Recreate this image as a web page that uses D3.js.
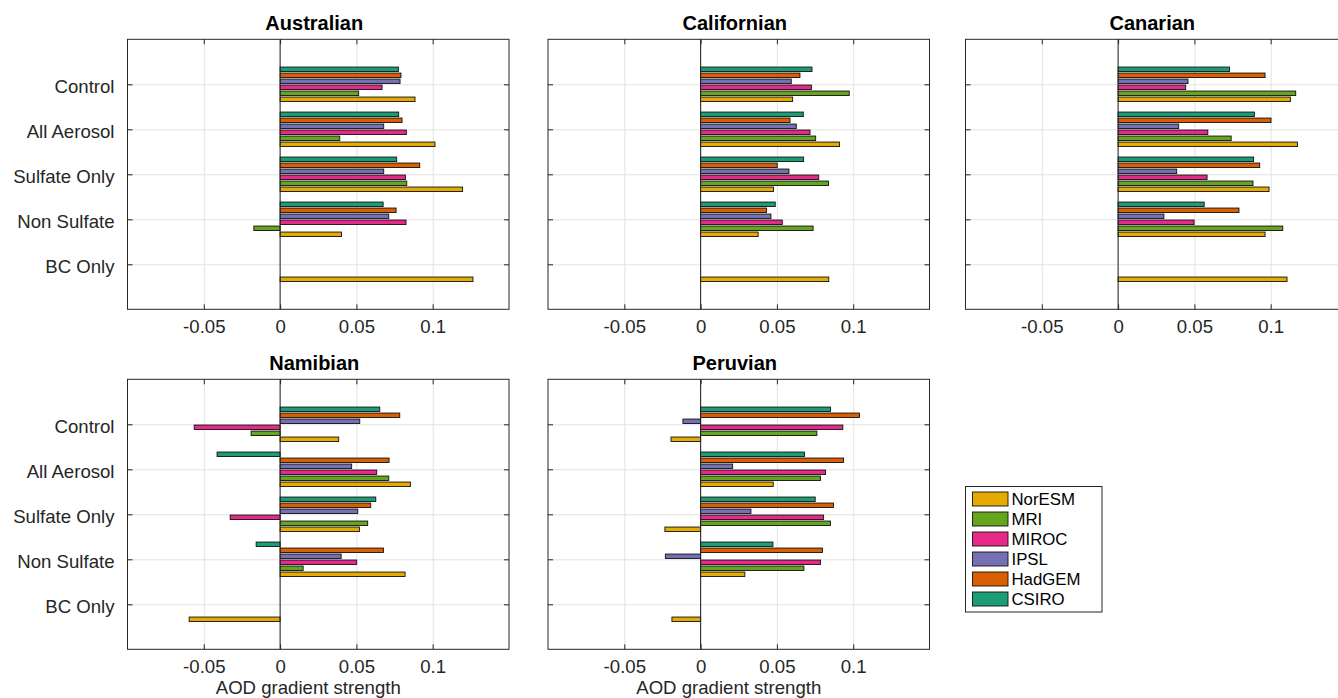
<!DOCTYPE html>
<html>
<head>
<meta charset="utf-8">
<script src="https://cdn.jsdelivr.net/npm/d3@7"></script>
<style>
  body { margin: 0; background: #fff; }
  svg { display: block; font-family: "Liberation Sans", Arial, Helvetica, sans-serif; }
  .grid line { stroke: #e2e2e2; stroke-width: 1; }
  .grid path { display: none; }
  .ax path { display: none; }
  .ax line { stroke: #262626; }
  .ax text { fill: #262626; font-size: 18.6px; }
</style>
</head>
<body>
<div id="chart"></div>
<script>
// experiments shown on the y axis (top to bottom)
const categories = ["Control", "All Aerosol", "Sulfate Only", "Non Sulfate", "BC Only"]
// models, in legend order
const models = ["NorESM", "MRI", "MIROC", "IPSL", "HadGEM", "CSIRO"]
const modelColors = ["#e6ab02", "#66a61e", "#e7298a", "#7570b3", "#d95f02", "#1b9e77"]
const regions = ["Australian", "Californian", "Canarian", "Namibian", "Peruvian"]
const xTicks = [-0.05, 0, 0.05, 0.1]

// values per experiment, columns follow `models`
const australian = [
    [0.0884, 0.0515, 0.0668, 0.0786, 0.0792, 0.0775],
    [0.1015, 0.0391, 0.0827, 0.0679, 0.0799, 0.0777],
    [0.1196, 0.0830, 0.0821, 0.0679, 0.0915, 0.0764],
    [0.0402, -0.0172, 0.0825, 0.0712, 0.0760, 0.0675],
    [0.1264, 0, 0, 0, 0, 0]
]
const californian = [
    [0.0603, 0.0974, 0.0726, 0.0594, 0.0651, 0.0730],
    [0.0910, 0.0754, 0.0717, 0.0627, 0.0586, 0.0673],
    [0.0478, 0.0838, 0.0774, 0.0579, 0.0502, 0.0675],
    [0.0377, 0.0737, 0.0535, 0.0461, 0.0432, 0.0489],
    [0.0840, 0, 0, 0, 0, 0]
]
const canarian = [
    [0.1129, 0.1164, 0.0443, 0.0458, 0.0963, 0.0730],
    [0.1175, 0.0741, 0.0588, 0.0397, 0.1002, 0.0893],
    [0.0989, 0.0884, 0.0583, 0.0384, 0.0928, 0.0888],
    [0.0963, 0.1079, 0.0498, 0.0300, 0.0792, 0.0564],
    [0.1107, 0, 0, 0, 0, 0]
]
const namibian = [
    [0.0384, -0.0190, -0.0563, 0.0522, 0.0784, 0.0653],
    [0.0854, 0.0712, 0.0633, 0.0469, 0.0714, -0.0413],
    [0.0520, 0.0574, -0.0327, 0.0509, 0.0594, 0.0627],
    [0.0819, 0.0151, 0.0502, 0.0400, 0.0677, -0.0157],
    [-0.0596, 0, 0, 0, 0, 0]
]
const peruvian = [
    [-0.0194, 0.0762, 0.0932, -0.0116, 0.1041, 0.0851],
    [0.0476, 0.0786, 0.0819, 0.0210, 0.0937, 0.0681],
    [-0.0234, 0.0851, 0.0806, 0.0330, 0.0871, 0.0751],
    [0.0290, 0.0677, 0.0786, -0.0231, 0.0799, 0.0474],
    [-0.0188, 0, 0, 0, 0, 0]
]
const regionValues = [australian, californian, canarian, namibian, peruvian]

const W = 1338, H = 698
const panelW = 381.5, panelH = 270
const colLeft = [127.5, 548, 965.5]
const rowTop = [39.3, 379.3]

const svg = d3.select("#chart").append("svg")
    .attr("width", W)
    .attr("height", H)
svg.append("rect").attr("width", W).attr("height", H).attr("fill", "#fff")

const x = d3.scaleLinear().domain([-0.1, 0.15]).range([0, panelW])
const y = d3.scaleLinear().domain([0, 6]).range([0, panelH])
// bars inside a group: CSIRO on top, NorESM at the bottom
const inner = d3.scaleBand()
    .domain(models.slice().reverse())
    .range([-0.4, 0.4])
    .paddingInner(0.25)
    .paddingOuter(0.125)

const fmt = d => d === 0 ? "0" : String(d)

regions.forEach((name, r) => {
    const col = r % 3
    const row = Math.floor(r / 3)
    const g = svg.append("g").attr("transform", `translate(${colLeft[col]},${rowTop[row]})`)
    const values = regionValues[r]

    // grid
    g.append("g").attr("class", "grid")
        .attr("transform", `translate(0,${panelH})`)
        .call(d3.axisBottom(x).tickValues(xTicks).tickSize(-panelH).tickFormat(""))
    g.append("g").attr("class", "grid")
        .call(d3.axisLeft(y).tickValues([1, 2, 3, 4, 5]).tickSize(-panelW).tickFormat(""))

    // bars
    const bars = []
    values.forEach((row, ci) => {
        row.forEach((v, mi) => bars.push({ cat: ci + 1, model: models[mi], color: modelColors[mi], v: v }))
    })
    g.selectAll("rect.bar")
        .data(bars.filter(d => d.v !== 0))
        .enter()
        .append("rect")
        .attr("class", "bar")
        .attr("x", d => x(Math.min(0, d.v)))
        .attr("width", d => Math.abs(x(d.v) - x(0)))
        .attr("y", d => y(d.cat + inner(d.model)))
        .attr("height", y(inner.bandwidth()) - y(0))
        .attr("fill", d => d.color)
        .attr("stroke", "#111")
        .attr("stroke-width", 0.9)

    // baseline at zero
    g.append("line")
        .attr("x1", x(0)).attr("x2", x(0))
        .attr("y1", 0).attr("y2", panelH)
        .attr("stroke", "#222")
        .attr("stroke-width", 1)

    // axes, ticks pointing inward
    const bottom = g.append("g").attr("class", "ax")
        .attr("transform", `translate(0,${panelH})`)
        .call(d3.axisBottom(x).tickValues(xTicks).tickSizeInner(-5).tickSizeOuter(0).tickPadding(10.8).tickFormat(fmt))
    g.append("g").attr("class", "ax")
        .call(d3.axisTop(x).tickValues(xTicks).tickSizeInner(-5).tickSizeOuter(0).tickFormat(""))
    const left = g.append("g").attr("class", "ax")
        .call(d3.axisLeft(y).tickValues([1, 2, 3, 4, 5]).tickSizeInner(-5).tickSizeOuter(0).tickPadding(13)
            .tickFormat(d => col === 0 ? categories[d - 1] : ""))
    left.selectAll("text").attr("dy", "0.45em")
    g.append("g").attr("class", "ax")
        .attr("transform", `translate(${panelW},0)`)
        .call(d3.axisRight(y).tickValues([1, 2, 3, 4, 5]).tickSizeInner(-5).tickSizeOuter(0).tickFormat(""))

    // box
    g.append("rect")
        .attr("width", panelW).attr("height", panelH)
        .attr("fill", "none")
        .attr("stroke", "#262626")
        .attr("stroke-width", 1)

    // title
    g.append("text")
        .attr("x", panelW / 2 - 4)
        .attr("y", -9.3)
        .attr("text-anchor", "middle")
        .attr("font-weight", "bold")
        .attr("font-size", "20px")
        .attr("fill", "#000")
        .text(name)

    if (row === 1) {
        g.append("text")
            .attr("x", panelW / 2 - 10)
            .attr("y", panelH + 44.7)
            .attr("text-anchor", "middle")
            .attr("font-size", "18.6px")
            .attr("fill", "#262626")
            .text("AOD gradient strength")
    }
})

// legend
const legend = svg.append("g").attr("transform", "translate(965.5,486.5)")
legend.append("rect")
    .attr("width", 136.5).attr("height", 125.5)
    .attr("fill", "#fff")
    .attr("stroke", "#262626")
    .attr("stroke-width", 1)
const items = legend.selectAll("g.item")
    .data(models)
    .enter()
    .append("g")
    .attr("class", "item")
    .attr("transform", (d, i) => `translate(0,${12.5 + i * 20})`)
items.append("rect")
    .attr("x", 7).attr("y", -7)
    .attr("width", 35.5).attr("height", 14)
    .attr("fill", (d, i) => modelColors[i])
    .attr("stroke", "#111")
    .attr("stroke-width", 0.9)
items.append("text")
    .attr("x", 46)
    .attr("y", 6)
    .attr("font-size", "16.8px")
    .attr("fill", "#000")
    .text(d => d)
</script>
</body>
</html>
